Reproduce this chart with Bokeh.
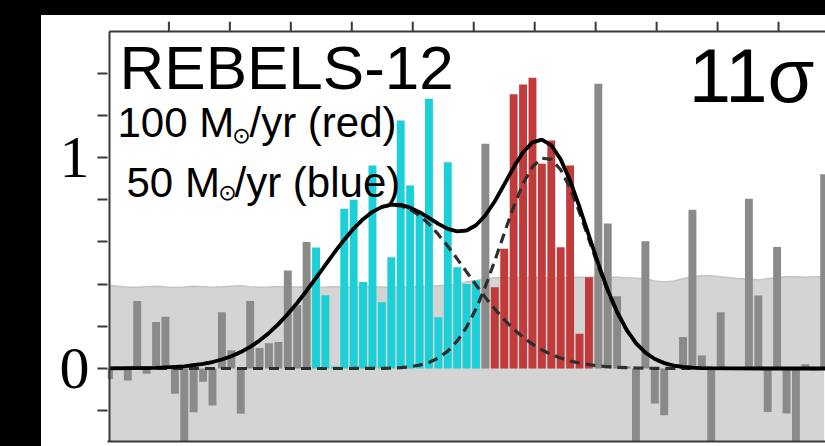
from bokeh.plotting import figure
from bokeh.models import Range1d, LinearAxis, FixedTicker, Label, Spacer
from bokeh.layouts import row, column
from bokeh.embed import file_html
from bokeh.resources import INLINE

# ---- data ----
channels = list(range(77))
flux = [-0.05, 0.01, -0.057, 0.32, -0.025, 0.22, 0.245, -0.12, -0.40, -0.207,
        -0.063, -0.175, 0.266, 0.086, -0.214, 0.32, 0.097, 0.12, 0.126, 0.464,
        0.30, 0.60, 0.574, 0.347, 0.01, 0.757, 0.80, 0.41, 0.962, 0.314,
        0.527, 1.175, 0.867, 0.74, 1.278, 0.243, 0.978, 0.48, 0.40, 0.417,
        1.065, 0.385, 0.567, 1.30, 1.346, 1.378, 0.97, 1.08, 0.575, 0.962,
        0.165, 0.433, 1.35, 0.687, 0.342, 0.01, -0.40, 0.603, -0.166, -0.222,
        0.0, 0.149, 0.752, 0.062, -0.40, 0.267, 0.0, 0.0, 0.804, 0.346,
        -0.206, 0.576, -0.213, -0.40, 0.02, -0.01, 0.92]
blue_channels = list(range(22, 40))
red_channels = list(range(41, 52))
noise_level = [0.395, 0.39, 0.385, 0.385, 0.388, 0.39, 0.386, 0.384, 0.386, 0.39,
               0.388, 0.385, 0.387, 0.39, 0.392, 0.388, 0.385, 0.386, 0.388, 0.386,
               0.386, 0.387, 0.385, 0.386, 0.388, 0.386, 0.385, 0.386, 0.387, 0.386,
               0.385, 0.386, 0.387, 0.388, 0.39, 0.392, 0.395, 0.40, 0.41, 0.417,
               0.425, 0.43, 0.43, 0.43, 0.43, 0.432, 0.432, 0.43, 0.43, 0.432,
               0.433, 0.433, 0.433, 0.433, 0.433, 0.43, 0.428, 0.425, 0.415, 0.41,
               0.415, 0.425, 0.435, 0.44, 0.44, 0.435, 0.43, 0.425, 0.425, 0.42,
               0.425, 0.43, 0.435, 0.435, 0.432, 0.435, 0.435]

model_x = [0, 5, 8, 10, 11, 12, 13, 14, 15, 16, 17, 18, 19, 20, 21, 22, 23, 24,
           25, 26, 27, 28, 29, 30, 31, 32, 33, 34, 35, 36, 37, 38, 39, 40, 41, 42,
           43, 44, 45, 46, 47, 48, 49, 50, 51, 52, 53, 54, 55, 56, 57, 58, 59, 60,
           61, 62, 63, 66, 70, 77]
model_blue = [0.0003, 0.003, 0.0104, 0.0218, 0.0307, 0.0426, 0.0581, 0.0778, 0.1024,
              0.1324, 0.1683, 0.2101, 0.2579, 0.3109, 0.3685, 0.4292, 0.4911, 0.5524,
              0.6105, 0.6630, 0.7076, 0.7421, 0.7649, 0.7746, 0.7710, 0.7541, 0.7248,
              0.6847, 0.6355, 0.5796, 0.5196, 0.4576, 0.3961, 0.3370, 0.2816, 0.2314,
              0.1868, 0.1482, 0.1155, 0.0885, 0.0666, 0.0493, 0.0358, 0.0256, 0.0180,
              0.0124, 0.0084, 0.0056, 0.0037, 0.0024, 0.0015, 0.0009, 0.0005, 0.0003,
              0.0002, 0.0001, 0.0, 0.0, 0.0, 0.0]
model_red = [0.0, 0.0, 0.0, 0.0, 0.0, 0.0, 0.0, 0.0, 0.0, 0.0, 0.0, 0.0, 0.0, 0.0,
             0.0, 0.0, 0.0, 0.0, 0.0, 0.0001, 0.0002, 0.0004, 0.0009, 0.0020, 0.0042,
             0.0083, 0.0158, 0.0287, 0.0498, 0.0824, 0.1302, 0.1964, 0.2829, 0.3890,
             0.5108, 0.6405, 0.7667, 0.8763, 0.9563, 0.9965, 0.9914, 0.9418, 0.8543,
             0.7399, 0.6118, 0.4830, 0.3641, 0.2621, 0.1801, 0.1182, 0.0741, 0.0443,
             0.0253, 0.0138, 0.0072, 0.0036, 0.0017, 0.0001, 0.0, 0.0]
model_total = [0.0003, 0.003, 0.0104, 0.0218, 0.0307, 0.0426, 0.0581, 0.0778, 0.1024,
               0.1324, 0.1683, 0.2101, 0.2579, 0.3109, 0.3685, 0.4292, 0.4911, 0.5524,
               0.6105, 0.6631, 0.7078, 0.7425, 0.7658, 0.7766, 0.7752, 0.7624, 0.7406,
               0.7134, 0.6853, 0.6620, 0.6498, 0.6540, 0.6790, 0.7260, 0.7924, 0.8719,
               0.9535, 1.0245, 1.0718, 1.0850, 1.0580, 0.9911, 0.8901, 0.7655, 0.6298,
               0.4954, 0.3725, 0.2677, 0.1838, 0.1206, 0.0756, 0.0452, 0.0258, 0.0141,
               0.0074, 0.0037, 0.0017, 0.0001, 0.0, 0.0]

y_major_ticks = [0, 1]
y_minor_ticks = [-0.2, 0.2, 0.4, 0.6, 0.8, 1.2, 1.4]
vel_ticks = [-600, -500, -400, -300, -200, -100, 0, 100, 200, 300, 400]

title = "REBELS-12"
line1 = ["100 M", "\u2299", "/yr (red)"]
line2 = ["50 M", "\u2299", "/yr (blue)"]
signif = "11\u03c3"

# ---- colours ----
GRAY = "#8a8a8a"
CYAN = "#1dcfd6"
RED = "#c23b3b"
colors = []
for c in channels:
    if c in blue_channels:
        colors.append(CYAN)
    elif c in red_channels:
        colors.append(RED)
    else:
        colors.append(GRAY)

Y_BOTTOM = -0.346
Y_TOPLINE = 1.597
Y_FRAMETOP = 1.6445
X_LEFTLINE = 0.053

p = figure(width=784, height=431, x_range=Range1d(-0.159, 76.14),
           y_range=Range1d(Y_BOTTOM, Y_FRAMETOP), output_backend="svg",
           toolbar_location=None, x_axis_location=None, y_axis_location=None,
           min_border_left=66, min_border_top=6, min_border_bottom=5,
           min_border_right=0)
p.extra_x_ranges = {"vel": Range1d(-700.7, 477.0)}
p.outline_line_color = None
p.grid.visible = False
p.background_fill_color = "white"
p.border_fill_color = "white"

AX = "#3a3a3a"

# noise band
p.varea(x=channels, y1=-1, y2=noise_level, fill_color="#d4d4d4")
p.line(x=channels, y=noise_level, line_color="#c4c4c4", line_width=1.5)

# spectrum bars
p.vbar(x=channels, top=flux, bottom=0, width=0.84, fill_color=colors,
       line_color=None)

# models
p.line(model_x, model_blue, line_color="#2e2e2e", line_width=3.2, line_dash="10 6")
p.line(model_x, model_red, line_color="#2e2e2e", line_width=3.2, line_dash="10 6")
p.line(model_x, model_total, line_color="black", line_width=3.8)

# frame lines drawn inside the (taller) frame: top edge with its ticks, left edge
p.segment(x0=X_LEFTLINE, y0=Y_TOPLINE, x1=80, y1=Y_TOPLINE, line_color=AX, line_width=2)
p.segment(x0=X_LEFTLINE, y0=Y_BOTTOM, x1=X_LEFTLINE, y1=Y_TOPLINE, line_color=AX, line_width=2)
p.segment(x0=vel_ticks, y0=Y_TOPLINE, x1=vel_ticks, y1=Y_FRAMETOP, x_range_name="vel",
          line_color=AX, line_width=2)

# left axis (ticks + labels)
left = LinearAxis(ticker=FixedTicker(ticks=y_major_ticks, minor_ticks=y_minor_ticks))
left.axis_line_color = None
left.major_tick_line_color = AX
left.minor_tick_line_color = AX
left.major_tick_line_width = 2
left.minor_tick_line_width = 2
left.major_tick_out = 10
left.major_tick_in = 0
left.minor_tick_out = 10
left.minor_tick_in = 0
left.major_label_standoff = 8
left.major_label_text_font = "Liberation Serif"
left.major_label_text_font_size = "60px"
left.major_label_text_color = "black"
p.add_layout(left, "left")

bottom = LinearAxis(ticker=FixedTicker(ticks=[], minor_ticks=[]))
bottom.axis_line_color = AX
bottom.axis_line_width = 2
bottom.major_tick_out = 0
bottom.major_tick_in = 0
bottom.minor_tick_out = 0
bottom.minor_tick_in = 0
bottom.major_label_standoff = 0
p.add_layout(bottom, "below")

# texts
def lab(x, y, text, size, font="Liberation Sans", align="left", baseline="alphabetic"):
    p.add_layout(Label(x=x, y=y, text=text, text_font=font, text_font_size=size,
                       text_color="black", text_align=align, text_baseline=baseline))

lab(1.12, 1.427, title, "62px")
lab(0.90, 1.166, line1[0], "42px")
lab(14.08, 1.104, line1[1], "22px", font="DejaVu Sans", align="center", baseline="middle")
lab(14.93, 1.166, line1[2], "42px")
lab(1.86, 0.882, line2[0], "42px")
lab(12.59, 0.834, line2[1], "22px", font="DejaVu Sans", align="center", baseline="middle")
lab(13.34, 0.882, line2[2], "42px")
lab(61.6, 1.389, signif, "76px")

black_left = Spacer(width=41, height=446, styles={"background-color": "black"})
black_top = Spacer(width=784, height=15, styles={"background-color": "black"})
layout = row(black_left, column(black_top, p, spacing=0), spacing=0)

open("out.html", "w").write(file_html(layout, INLINE))
